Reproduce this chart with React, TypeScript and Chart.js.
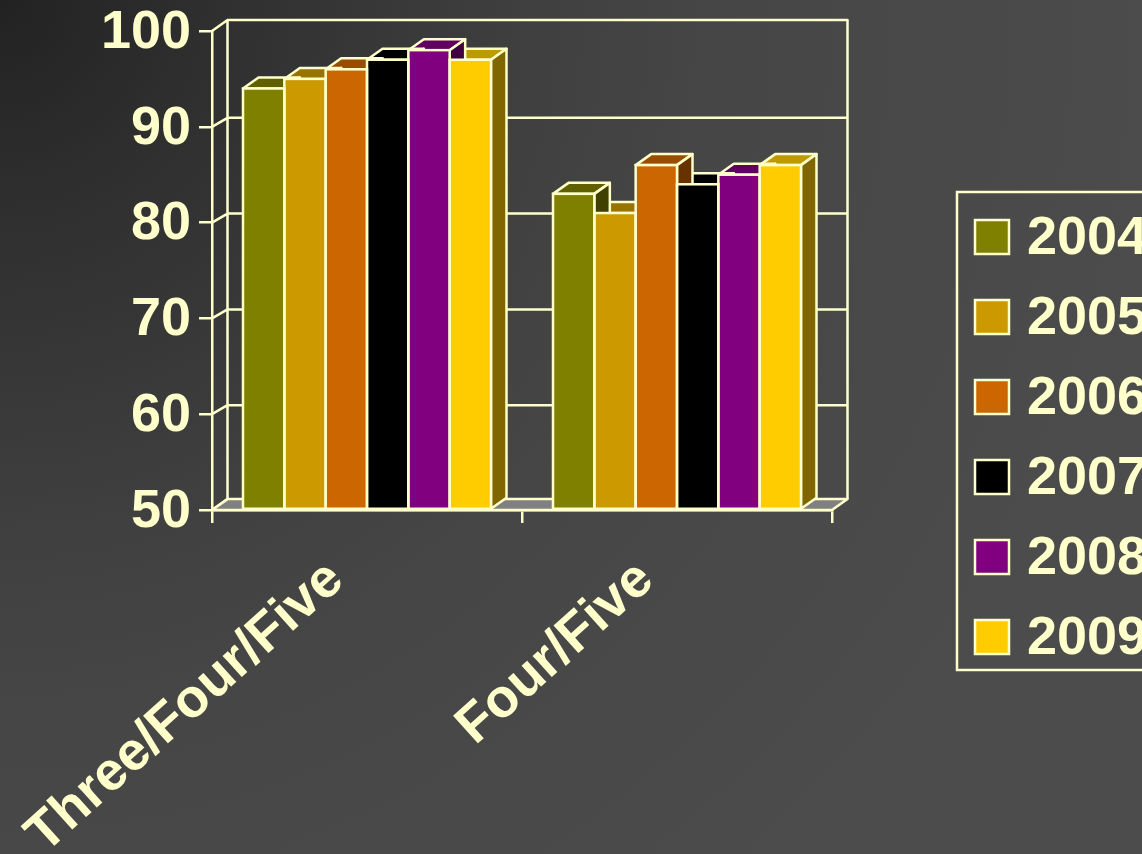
import React, { useEffect, useRef } from "react";
import { Chart, registerables } from "chart.js";

Chart.register(...registerables);

const categories = ["Three/Four/Five", "Four/Five"];
const seriesNames = ["2004", "2005", "2006", "2007", "2008", "2009"];
const seriesColors = ["#808000", "#CC9900", "#CC6600", "#000000", "#800080", "#FFCC00"];
const values2004 = [94, 83];
const values2005 = [95, 81];
const values2006 = [96, 86];
const values2007 = [97, 84];
const values2008 = [98, 85];
const values2009 = [97, 86];
const allValues = [values2004, values2005, values2006, values2007, values2008, values2009];
const axisMin = 50;
const axisMax = 100;

const CREAM = "#FFFFCC";
const FONT = "'Liberation Sans', Arial, sans-serif";
const DX = 15.5;
const DY = 11;
const GRID_DY = 9;
const LINE = 2.5;

function shade(hex: string, f: number) {
  const n = parseInt(hex.slice(1), 16);
  const r = Math.round(((n >> 16) & 255) * f);
  const g = Math.round(((n >> 8) & 255) * f);
  const b = Math.round((n & 255) * f);
  return `rgb(${r},${g},${b})`;
}

function poly(ctx: CanvasRenderingContext2D, pts: number[][], fill: string | null) {
  ctx.beginPath();
  pts.forEach((p, i) => (i ? ctx.lineTo(p[0], p[1]) : ctx.moveTo(p[0], p[1])));
  ctx.closePath();
  if (fill) {
    ctx.fillStyle = fill;
    ctx.fill();
  }
  ctx.stroke();
}

const backgroundPlugin = {
  id: "bg",
  beforeDraw(chart: any) {
    const { ctx, width, height } = chart;
    const g = ctx.createRadialGradient(0, 0, 0, 0, 0, 1200);
    g.addColorStop(0, "#222222");
    g.addColorStop(0.16, "#2e2e2e");
    g.addColorStop(0.45, "#404040");
    g.addColorStop(0.6, "#464646");
    g.addColorStop(1, "#4c4c4c");
    ctx.save();
    ctx.fillStyle = g;
    ctx.fillRect(0, 0, width, height);
    ctx.restore();
  },
};

const depthPlugin = {
  id: "depth",
  beforeDatasetsDraw(chart: any) {
    const { ctx, chartArea, scales } = chart;
    const { left, right, top, bottom } = chartArea;
    ctx.save();
    ctx.strokeStyle = CREAM;
    ctx.lineWidth = LINE;
    ctx.lineJoin = "round";

    // floor
    poly(ctx, [[left, bottom], [left + DX, bottom - DY], [right + DX, bottom - DY], [right, bottom]], "#808080");

    // back wall, gridlines and the side-wall diagonals
    ctx.beginPath();
    ctx.moveTo(left + DX, bottom - DY);
    ctx.lineTo(left + DX, top - DY);
    ctx.lineTo(right + DX, top - DY);
    ctx.lineTo(right + DX, bottom - DY);
    scales.y.ticks.forEach((t: any) => {
      const y = scales.y.getPixelForValue(t.value);
      const dy = t.value === axisMin || t.value === axisMax ? DY : GRID_DY;
      ctx.moveTo(left, y);
      ctx.lineTo(left + DX, y - dy);
      if (t.value !== scales.y.min) {
        ctx.moveTo(left + DX, y - dy);
        ctx.lineTo(right + DX, y - dy);
      }
    });
    ctx.stroke();

    // bar depth: painted right to left, fronts come after through the library
    const nCat = categories.length;
    for (let c = nCat - 1; c >= 0; c--) {
      for (let d = chart.data.datasets.length - 1; d >= 0; d--) {
        const el = chart.getDatasetMeta(d).data[c];
        const color = seriesColors[d];
        const l = el.x - el.width / 2;
        const r = el.x + el.width / 2;
        poly(ctx, [[l, el.y], [l + DX, el.y - DY], [r + DX, el.y - DY], [r, el.y]], shade(color, 0.75));
        poly(ctx, [[r, el.y], [r + DX, el.y - DY], [r + DX, el.base - DY], [r, el.base]], shade(color, 0.5));
      }
    }
    ctx.restore();
  },
  afterDatasetsDraw(chart: any) {
    const { ctx } = chart;
    ctx.save();
    ctx.strokeStyle = CREAM;
    ctx.lineWidth = LINE;
    ctx.lineJoin = "miter";
    chart.data.datasets.forEach((_: any, d: number) => {
      chart.getDatasetMeta(d).data.forEach((el: any) => {
        ctx.strokeRect(el.x - el.width / 2, el.y, el.width, el.base - el.y);
      });
    });
    ctx.restore();
  },
};

const legendPlugin = {
  id: "legend3d",
  afterDraw(chart: any) {
    const { ctx } = chart;
    ctx.save();
    ctx.strokeStyle = CREAM;
    ctx.lineWidth = LINE;
    ctx.strokeRect(957, 192, 240, 478);
    ctx.font = `bold 54px ${FONT}`;
    ctx.textBaseline = "middle";
    ctx.textAlign = "left";
    seriesNames.forEach((name, i) => {
      const cy = 237 + i * 80;
      ctx.fillStyle = seriesColors[i];
      ctx.fillRect(975, cy - 17, 34, 34);
      ctx.strokeRect(975, cy - 17, 34, 34);
      ctx.fillStyle = CREAM;
      ctx.fillText(name, 1027, cy + 2);
    });
    ctx.restore();
  },
};

export default function App() {
  const ref = useRef<HTMLCanvasElement>(null);
  useEffect(() => {
    const chart = new Chart(ref.current!, {
      type: "bar",
      data: {
        labels: categories,
        datasets: seriesNames.map((name, i) => ({
          label: name,
          data: allValues[i],
          base: axisMin,
          backgroundColor: seriesColors[i],
          borderWidth: 0,
          barPercentage: 1,
          categoryPercentage: 0.8,
        })),
      },
      options: {
        responsive: false,
        animation: false,
        layout: { padding: { top: 31, right: 310, left: 0, bottom: 0 } },
        plugins: { legend: { display: false }, tooltip: { enabled: false } },
        scales: {
          x: {
            afterFit(s: any) {
              s.height = 344;
              s.paddingLeft = 0;
              s.paddingRight = 0;
            },
            border: { display: true, color: CREAM, width: LINE },
            grid: { drawOnChartArea: false, color: CREAM, lineWidth: LINE, tickLength: 13, offset: true },
            ticks: {
              color: CREAM,
              font: { family: FONT, size: 54, weight: "bold" },
              minRotation: 42,
              maxRotation: 42,
              autoSkip: false,
              padding: 25,
              labelOffset: -31,
            },
          },
          y: {
            min: axisMin,
            max: axisMax,
            afterFit(s: any) {
              s.width = 212;
              s.paddingTop = 0;
              s.paddingBottom = 0;
            },
            border: { display: true, color: CREAM, width: LINE },
            grid: { drawOnChartArea: false, color: CREAM, lineWidth: LINE, tickLength: 13 },
            ticks: {
              color: CREAM,
              stepSize: 10,
              font: { family: FONT, size: 54, weight: "bold" },
              padding: 8,
              labelOffset: 2,
            },
          },
        },
      },
      plugins: [backgroundPlugin, depthPlugin, legendPlugin],
    } as any);
    return () => chart.destroy();
  }, []);
  return (
    <canvas
      ref={ref}
      width={1142}
      height={854}
      style={{ position: "fixed", left: 0, top: 0, width: 1142, height: 854 }}
    />
  );
}
